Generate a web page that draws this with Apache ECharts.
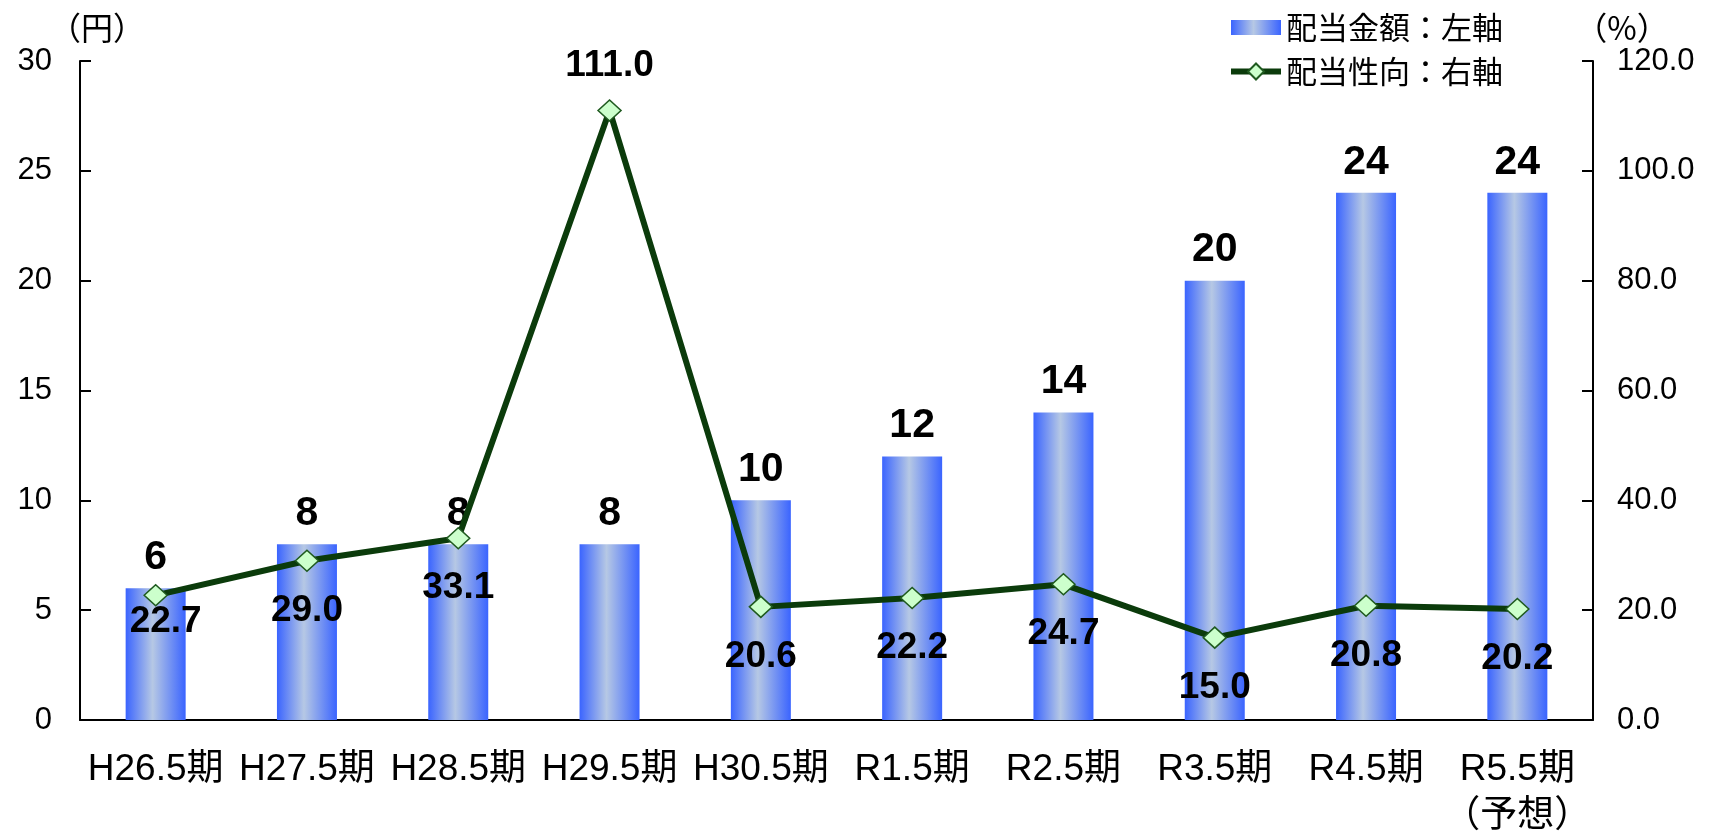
<!DOCTYPE html>
<html>
<head>
<meta charset="utf-8">
<script src="https://cdn.jsdelivr.net/npm/echarts@6/dist/echarts.min.js"></script>
<style>
  html, body { margin: 0; padding: 0; background: #fff; }
  #chart { width: 1715px; height: 833px; }
</style>
</head>
<body>
<div id="chart"></div>
<script>
// 決算期
const categories = ['H26.5期', 'H27.5期', 'H28.5期', 'H29.5期', 'H30.5期', 'R1.5期', 'R2.5期', 'R3.5期', 'R4.5期', 'R5.5期\n（予想）'];
// 1株当たり配当金額（円）
const dividendYen = [6, 8, 8, 8, 10, 12, 14, 20, 24, 24];
// 配当性向（%）
const payoutRatio = [22.7, 29.0, 33.1, 111.0, 20.6, 22.2, 24.7, 15.0, 20.8, 20.2];
// 左軸・右軸の目盛
const leftTicks = { min: 0, max: 30, interval: 5 };
const rightTicks = { min: 0, max: 120, interval: 20 };

const FONT = '"Liberation Sans", Arial, "Noto Sans CJK JP", sans-serif';
const JP_FONT = '"Noto Sans CJK JP", sans-serif';

// 配当性向ラベルの個別配置
const ratioLabelOverrides = {
  0: { offset: [10, -23] },
  3: { position: 'top', distance: 15 }
};

const chart = echarts.init(document.getElementById('chart'), null, { renderer: 'canvas' });

const barGradient = new echarts.graphic.LinearGradient(0, 0, 1, 0, [
  { offset: 0, color: '#3a64ff' },
  { offset: 0.45, color: '#b6c8e4' },
  { offset: 1, color: '#3a64ff' }
]);

const ratioData = payoutRatio.map((v, i) => {
  const item = { value: v };
  if (ratioLabelOverrides[i]) item.label = ratioLabelOverrides[i];
  return item;
});

chart.setOption({
  animation: false,
  backgroundColor: '#ffffff',
  textStyle: { fontFamily: FONT },
  grid: { left: 80, right: 122, top: 61, bottom: 113, containLabel: false, outerBoundsMode: 'none' },
  legend: {
    orient: 'vertical',
    left: 1223,
    top: 7,
    itemWidth: 50,
    itemHeight: 20,
    itemGap: 13,
    textStyle: { fontSize: 31, color: '#000', fontFamily: JP_FONT },
    lineStyle: { width: 6 },
    data: [
      // 高さ15の帯（上下に余白を持つ矩形パス）
      { name: '配当金額：左軸', icon: 'path://M0,0M0,2.5h50v15h-50zM50,20' },
      { name: '配当性向：右軸' }
    ]
  },
  xAxis: {
    type: 'category',
    data: categories,
    boundaryGap: true,
    axisLine: { lineStyle: { color: '#000', width: 2 } },
    axisTick: { inside: true, length: 10, lineStyle: { color: '#000', width: 2 } },
    axisLabel: {
      color: '#000', fontSize: 37, lineHeight: 47, margin: 26, interval: 0,
      fontFamily: FONT
    }
  },
  yAxis: [
    {
      type: 'value',
      position: 'left',
      min: leftTicks.min, max: leftTicks.max, interval: leftTicks.interval,
      name: '（円）',
      nameLocation: 'end',
      nameGap: 17,
      nameTextStyle: { color: '#000', fontSize: 32, padding: [0, 0, 0, 34], fontFamily: JP_FONT },
      splitLine: { show: false },
      axisLine: { show: true, lineStyle: { color: '#000', width: 2 } },
      axisTick: { show: true, inside: true, length: 11, lineStyle: { color: '#000', width: 2 } },
      axisLabel: { color: '#000', fontSize: 31, margin: 28, fontFamily: FONT }
    },
    {
      type: 'value',
      position: 'right',
      min: rightTicks.min, max: rightTicks.max, interval: rightTicks.interval,
      name: '（%）',
      nameLocation: 'end',
      nameGap: 17,
      nameTextStyle: { color: '#000', fontSize: 32, padding: [0, 0, 0, 58], fontFamily: JP_FONT },
      splitLine: { show: false },
      axisLine: { show: true, lineStyle: { color: '#000', width: 2 } },
      axisTick: { show: true, inside: true, length: 11, lineStyle: { color: '#000', width: 2 } },
      axisLabel: {
        color: '#000', fontSize: 31, margin: 24, fontFamily: FONT,
        formatter: v => v.toFixed(1)
      }
    }
  ],
  series: [
    {
      name: '配当金額：左軸',
      type: 'bar',
      yAxisIndex: 0,
      data: dividendYen,
      barWidth: 60,
      itemStyle: { color: barGradient },
      label: {
        show: true, position: 'top', distance: 10,
        color: '#000', fontSize: 41, fontWeight: 'bold', lineHeight: 41, fontFamily: FONT
      },
      z: 2
    },
    {
      name: '配当性向：右軸',
      type: 'line',
      yAxisIndex: 1,
      data: ratioData,
      symbol: 'diamond',
      symbolSize: [23, 21],
      lineStyle: { color: '#0b3b0b', width: 6 },
      itemStyle: { color: '#ccffcc', borderColor: '#1f5a1f', borderWidth: 1.5 },
      label: {
        show: true, position: 'bottom', distance: 20,
        color: '#000', fontSize: 37, fontWeight: 'bold', lineHeight: 37, fontFamily: FONT,
        formatter: p => Number(p.value).toFixed(1)
      },
      z: 3
    }
  ]
});
</script>
</body>
</html>
